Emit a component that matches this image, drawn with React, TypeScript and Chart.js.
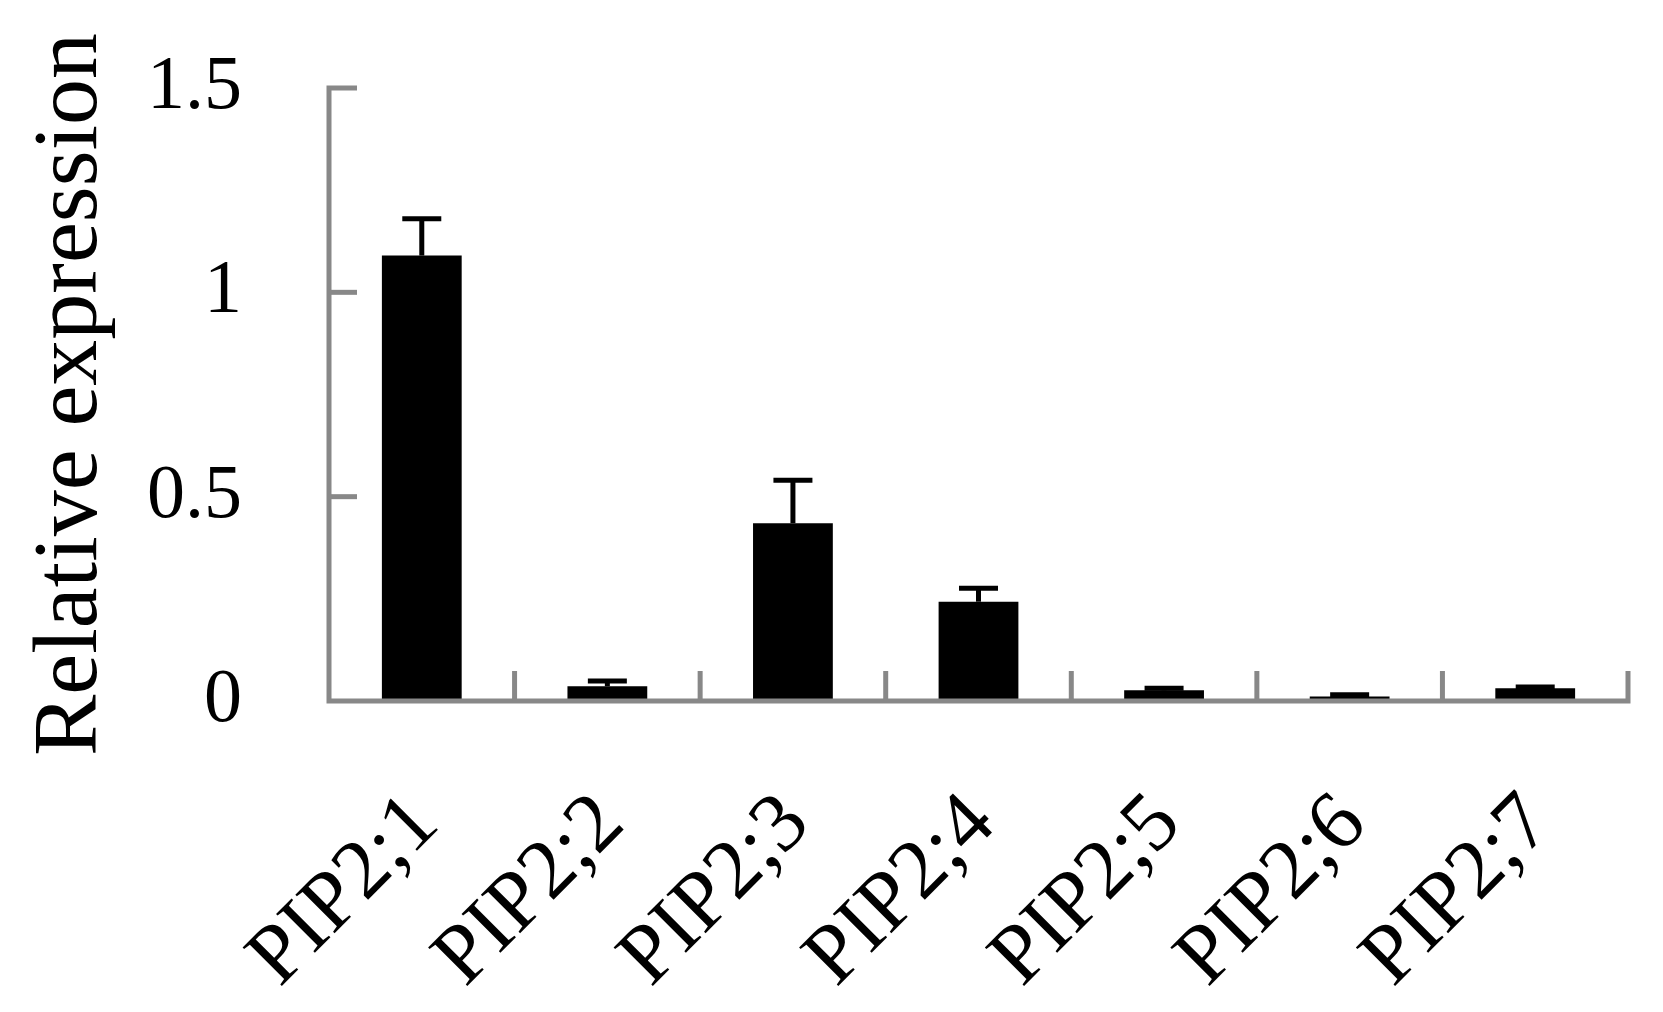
import React, { useEffect, useRef } from "react";
import { Chart, registerables } from "chart.js";

Chart.register(...registerables);

const categories = ["PIP2;1", "PIP2;2", "PIP2;3", "PIP2;4", "PIP2;5", "PIP2;6", "PIP2;7"];
const values = [1.09, 0.036, 0.435, 0.243, 0.026, 0.011, 0.031];
const errors = [0.09, 0.013, 0.105, 0.033, 0.005, 0.004, 0.003];
const yTicks = [0, 0.5, 1, 1.5];
const yTitle = "Relative expression";

const FONT = "'Liberation Serif', 'Times New Roman', serif";
const AXIS_COLOR = "#888888";

const errorBarsPlugin = {
  id: "errorBars",
  afterDatasetsDraw(chart: any) {
    const { ctx, scales } = chart;
    const x = scales.x;
    const y = scales.y;
    ctx.save();
    ctx.strokeStyle = "#000000";
    ctx.lineWidth = 5;
    ctx.lineCap = "butt";
    values.forEach((v, i) => {
      const px = x.getPixelForValue(i);
      const pTop = y.getPixelForValue(v + errors[i]);
      const pVal = y.getPixelForValue(v);
      ctx.beginPath();
      ctx.moveTo(px, pVal);
      ctx.lineTo(px, pTop);
      ctx.stroke();
      ctx.beginPath();
      ctx.moveTo(px - 19.5, pTop);
      ctx.lineTo(px + 19.5, pTop);
      ctx.stroke();
    });
    ctx.restore();

    // axes
    const { left, right } = chart.chartArea;
    const y0 = y.getPixelForValue(0);
    const yMax = y.getPixelForValue(yTicks[yTicks.length - 1]);
    ctx.save();
    ctx.strokeStyle = AXIS_COLOR;
    ctx.lineWidth = 5;
    ctx.lineJoin = "miter";
    ctx.lineCap = "butt";
    ctx.beginPath();
    ctx.moveTo(left + 28, yMax);
    ctx.lineTo(left, yMax);
    ctx.lineTo(left, y0);
    ctx.lineTo(right, y0);
    ctx.lineTo(right, y0 - 30);
    ctx.stroke();
    yTicks.slice(1, -1).forEach((t) => {
      const py = y.getPixelForValue(t);
      ctx.beginPath();
      ctx.moveTo(left, py);
      ctx.lineTo(left + 28, py);
      ctx.stroke();
    });
    for (let i = 1; i < categories.length; i++) {
      const bx = (x.getPixelForValue(i - 1) + x.getPixelForValue(i)) / 2;
      ctx.beginPath();
      ctx.moveTo(bx, y0);
      ctx.lineTo(bx, y0 - 30);
      ctx.stroke();
    }
    ctx.restore();
  },
};

export default function App() {
  const ref = useRef<HTMLCanvasElement | null>(null);

  useEffect(() => {
    if (!ref.current) return;
    const chart = new Chart(ref.current, {
      type: "bar",
      data: {
        labels: categories,
        datasets: [
          {
            data: values,
            backgroundColor: "#000000",
            borderWidth: 0,
            barPercentage: 0.43,
            categoryPercentage: 1,
          },
        ],
      },
      options: {
        responsive: false,
        animation: false,
        layout: { padding: { top: 80, right: 27, bottom: 0, left: 0 } },
        plugins: {
          legend: { display: false },
          tooltip: { enabled: false },
        },
        scales: {
          x: {
            grid: { display: false, drawTicks: false },
            border: { display: false },
            ticks: {
              autoSkip: false,
              maxRotation: 45,
              minRotation: 45,
              padding: 74,
              labelOffset: 4,
              color: "#000000",
              font: { family: FONT, size: 84 },
            },
            afterFit(scale: any) {
              scale.height = 303;
              scale.paddingLeft = 0;
              scale.paddingRight = 0;
              scale.paddingTop = 0;
              scale.paddingBottom = 0;
            },
          },
          y: {
            min: 0,
            max: 1.5,
            grid: { display: false, drawTicks: false },
            border: { display: false },
            afterBuildTicks(scale: any) {
              scale.ticks = yTicks.map((v) => ({ value: v }));
            },
            ticks: {
              padding: 87,
              color: "#000000",
              font: { family: FONT, size: 76 },
              callback: (v: any) => String(v),
            },
            title: {
              display: true,
              text: yTitle,
              color: "#000000",
              font: { family: FONT, size: 92 },
              padding: { top: 9, bottom: 0 },
            },
            afterFit(scale: any) {
              scale.width = 321;
              scale.paddingLeft = 0;
              scale.paddingRight = 0;
              scale.paddingTop = 0;
              scale.paddingBottom = 0;
            },
          },
        },
      },
      plugins: [errorBarsPlugin],
    });
    return () => chart.destroy();
  }, []);

  return <canvas ref={ref} width={1647} height={996} style={{ display: "block" }} />;
}
